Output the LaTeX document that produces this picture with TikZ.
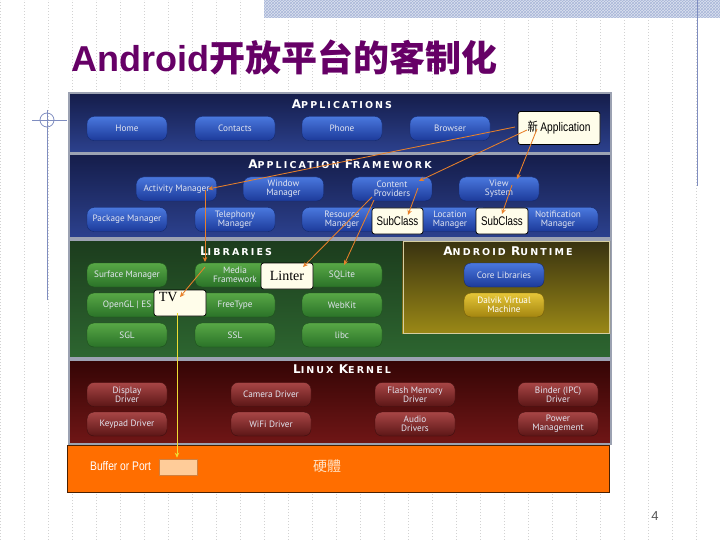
\documentclass[tikz,border=0pt]{standalone}
\usepackage{fontspec}
\setmainfont{Liberation Serif}
\newfontfamily\cjk{Noto Sans CJK SC}
\newfontfamily\cjktc{Noto Sans CJK TC}
\newfontfamily\btnfont{PT Sans}
\newfontfamily\hdrfont[LetterSpace=22]{DejaVu Sans}
\newfontfamily\arial{Liberation Sans}
\usetikzlibrary{calc,arrows.meta,patterns}
\definecolor{titlepurple}{HTML}{660066}
\definecolor{gridc}{HTML}{D2D2D2}
\definecolor{bandc}{HTML}{DCE2F0}
\definecolor{bandl}{HTML}{A8B6D8}
\definecolor{decoblue}{HTML}{7F8DC0}
\definecolor{navytop}{HTML}{151D4A}
\definecolor{navybot}{HTML}{2C418E}
\definecolor{panelborder}{HTML}{9CA2B2}
\definecolor{bluetop}{HTML}{4A78DE}
\definecolor{bluebot}{HTML}{1C3A9A}
\definecolor{btntext}{HTML}{E2E5F0}
\definecolor{gpaneltop}{HTML}{1C3C1D}
\definecolor{gpanelbot}{HTML}{2D6630}
\definecolor{greentop}{HTML}{58A846}
\definecolor{greenbot}{HTML}{2A7228}
\definecolor{rttop}{HTML}{383210}
\definecolor{rtbot}{HTML}{9A8816}
\definecolor{rtborder}{HTML}{D6CEA0}
\definecolor{yeltop}{HTML}{E6C638}
\definecolor{yelbot}{HTML}{A48610}
\definecolor{kpaneltop}{HTML}{340505}
\definecolor{kpanelbot}{HTML}{701616}
\definecolor{redtop}{HTML}{A84646}
\definecolor{redbot}{HTML}{5C1616}
\definecolor{hwfill}{HTML}{FF6E00}
\definecolor{hwborder}{HTML}{4A2000}
\definecolor{portfill}{HTML}{FFCC99}
\definecolor{portdraw}{HTML}{D08040}
\definecolor{hwtext}{HTML}{FFE2C4}
\definecolor{cream}{HTML}{FFFDEA}
\definecolor{arrorange}{HTML}{E8802A}
\definecolor{arryellow}{HTML}{EEDD33}
\definecolor{pagenum}{HTML}{555555}
\tikzset{
  btn/.style={rounded corners=7pt, minimum width=80pt, minimum height=24pt, inner sep=0pt,
    align=center, text=btntext, font=\btnfont\fontsize{9.2}{8.8}\selectfont},
  bbtn/.style={btn, top color=bluetop, bottom color=bluebot, draw=bluebot!70!black, line width=0.4pt},
  gbtn/.style={btn, top color=greentop, bottom color=greenbot, draw=greenbot!70!black, line width=0.4pt},
  rbtn/.style={btn, top color=redtop, bottom color=redbot, draw=redbot!70!black, line width=0.4pt},
  ybtn/.style={btn, top color=yeltop, bottom color=yelbot, draw=yelbot!70!black, line width=0.4pt, text=white},
  ovl/.style={draw=black, line width=0.8pt, rounded corners=2.5pt, fill=cream, inner sep=0pt},
  panel/.style={draw=panelborder, line width=1.2pt},
  hdr/.style={text=white, inner sep=0pt, font=\hdrfont\bfseries\fontsize{9.5}{9.5}\selectfont},
  oarr/.style={draw=arrorange, line width=0.85pt, -{Stealth[length=5pt,width=4.5pt]}},
  yarr/.style={draw=arryellow, line width=0.85pt, -{Stealth[length=5pt,width=4.5pt]}},
  gridline/.style={draw=gridc, line width=0.5pt, dash pattern=on 1pt off 2pt},
}
\newcommand{\hcap}[2]{{\fontsize{12}{12}\selectfont #1}#2}
\begin{document}
\begin{tikzpicture}[x=1pt,y=-1pt]
\useasboundingbox (0,0) rectangle (720,540);
\fill[white] (0,0) rectangle (720,540);
% background grid
\draw[gridline] (0,0) grid[step=24] (720,540);
% top band
\fill[bandc] (264,0) rectangle (720,18);
\fill[pattern=crosshatch, pattern color=bandl] (264,0) rectangle (720,18);
\draw[decoblue, line width=0.8pt] (697,0) -- (697,186);
% left ornament
\draw[decoblue, line width=0.8pt] (47,120) circle (7);
\draw[decoblue, line width=0.8pt] (32,120) -- (67,120);
\draw[decoblue, line width=0.8pt] (47,110) -- (47,300);
% title
\node[anchor=base west, inner sep=0pt, text=titlepurple] (title) at (71,72)
  {\fontsize{36}{36}\selectfont\arial\bfseries Android{\cjk\bfseries 开放平台的客制化}};

% panels
\shade[top color=navytop, bottom color=navybot] (69,93) rectangle (611,153);
\draw[panel] (69,93) rectangle (611,153);
\shade[top color=navytop, bottom color=navybot] (69,154) rectangle (611,238);
\draw[panel] (69,154) rectangle (611,238);
\shade[top color=gpaneltop, bottom color=gpanelbot] (69,240) rectangle (611,358);
\draw[panel] (69,240) rectangle (611,358);
\shade[top color=rttop, bottom color=rtbot] (402,241) rectangle (610,333);
\draw[rtborder, line width=1pt] (403,241) rectangle (609,333);
\shade[top color=kpaneltop, bottom color=kpanelbot] (69,360) rectangle (611,444);
\draw[panel] (69,360) rectangle (611,444);
\filldraw[fill=hwfill, draw=hwborder, line width=1pt] (67,445) rectangle (609,492);

% headers
\node[hdr] (happ) at (342,104) {\hcap{A}{PPLICATIONS}};
\node[hdr] (hfw) at (340,164) {\hcap{A}{PPLICATION} \hcap{F}{RAMEWORK}};
\node[hdr] (hlib) at (236,251) {\hcap{L}{IBRARIES}};
\node[hdr] (hrt) at (508,251) {\hcap{A}{NDROID} \hcap{R}{UNTIME}};
\node[hdr] (hk) at (342,369) {\hcap{L}{INUX} \hcap{K}{ERNEL}};

% applications
\node[bbtn] (home) at (127,128.5) {Home};
\node[bbtn] (contacts) at (235,128.5) {Contacts};
\node[bbtn] (phone) at (342,128.5) {Phone};
\node[bbtn] (browser) at (450,128.5) {Browser};

% framework
\node[bbtn] (activity) at (176.5,189) {Activity Manager};
\node[bbtn] (window) at (283.5,189) {Window\\Manager};
\node[bbtn] (content) at (392,189) {Content\\Providers};
\node[bbtn] (view) at (499,189) {View\\System};
\node[bbtn] (package) at (127,219.5) {Package Manager};
\node[bbtn] (telephony) at (235,219.5) {Telephony\\Manager};
\node[bbtn] (resource) at (342,219.5) {Resource\\Manager};
\node[bbtn] (location) at (450,219.5) {Location\\Manager};
\node[bbtn] (notification) at (558,219.5) {Notification\\Manager};

% libraries
\node[gbtn] (surface) at (127,275) {Surface Manager};
\node[gbtn] (media) at (235,275) {Media\\Framework};
\node[gbtn] (sqlite) at (342,275) {SQLite};
\node[gbtn] (opengl) at (127,305) {OpenGL | ES};
\node[gbtn] (freetype) at (235,305) {FreeType};
\node[gbtn] (webkit) at (342,305) {WebKit};
\node[gbtn] (sgl) at (127,335) {SGL};
\node[gbtn] (ssl) at (235,335) {SSL};
\node[gbtn] (libc) at (342,335) {libc};

% runtime
\node[bbtn] (core) at (504,275) {Core Libraries};
\node[ybtn] (dalvik) at (504,305) {Dalvik Virtual\\Machine};

% kernel
\node[rbtn] (display) at (127,394.5) {Display\\Driver};
\node[rbtn] (camera) at (271,394.5) {Camera Driver};
\node[rbtn] (flash) at (415,394.5) {Flash Memory\\Driver};
\node[rbtn] (binder) at (558,394.5) {Binder (IPC)\\Driver};
\node[rbtn] (keypad) at (127,424) {Keypad Driver};
\node[rbtn] (wifi) at (271,424) {WiFi Driver};
\node[rbtn] (audio) at (415,424) {Audio\\Drivers};
\node[rbtn] (power) at (558,424) {Power\\Management};

% overlay boxes
\node[ovl, minimum width=82pt, minimum height=33pt] (newapp) at (559,128)
  {\scalebox{0.82}[1]{\fontsize{12.5}{12.5}\selectfont{\cjktc 新} \arial Application}};
\node[ovl, minimum width=51pt, minimum height=26pt] (sub1) at (397.5,221)
  {\scalebox{0.78}[1]{\fontsize{12.5}{12.5}\selectfont\arial SubClass}};
\node[ovl, minimum width=52pt, minimum height=26pt] (sub2) at (502,221)
  {\scalebox{0.78}[1]{\fontsize{12.5}{12.5}\selectfont\arial SubClass}};
\node[ovl, minimum width=52pt, minimum height=26pt, font=\fontsize{14}{14}\selectfont] (linter) at (287,276) {Linter};
\node[ovl, minimum width=52pt, minimum height=26pt] (tv) at (180,303) {};
\node[anchor=north west, inner sep=0pt, font=\fontsize{14}{14}\selectfont] (tvlabel) at ($(tv.north west)+(5,3)$) {TV};

% hardware
\node[anchor=west, inner sep=0pt, text=white] (buffer) at (90,466)
  {\scalebox{0.82}[1]{\fontsize{12.5}{12.5}\selectfont\arial Buffer or Port}};
\node[draw=portdraw, fill=portfill, line width=0.6pt, minimum width=38pt, minimum height=16pt, inner sep=0pt] (port) at (178,467) {};
\node[text=hwtext, inner sep=0pt, font=\cjktc\fontsize{14}{14}\selectfont] (hw) at (327,466) {硬體};

% arrows
\draw[oarr] ($(newapp.center)+(-44,-1)$) -- ($(activity.center)+(31.5,0)$);
\draw[oarr] ($(newapp.center)+(-32,2)$) -- ($(content.center)+(27,-8)$);
\draw[oarr] ($(newapp.center)+(-22,1)$) -- ($(view.center)+(18,-10)$);
\draw[oarr] ($(content.center)+(26,-1)$) -- ($(sub1.center)+(10.5,-6)$);
\draw[oarr] ($(view.center)+(13,-4)$) -- ($(sub2.center)+(0,-7)$);
\draw[oarr] ($(activity.center)+(28.5,1)$) -- ($(media.center)+(-30,-13)$);
\draw[oarr] ($(content.center)+(-20,8)$) -- ($(linter.center)+(16,-9)$);
\draw[oarr] ($(content.center)+(-18,11)$) -- ($(sqlite.center)+(2,-10)$);
\draw[oarr] ($(media.center)+(-30,-8)$) -- ($(tv.center)+(0,-6)$);
\draw[yarr] ($(tv.center)+(-3,10)$) -- ($(port.north)+(-1,-1)$);

% page number
\node[text=pagenum, inner sep=0pt, font=\arial\fontsize{13}{13}\selectfont] (pnum) at (655,516) {4};
\end{tikzpicture}
\end{document}
